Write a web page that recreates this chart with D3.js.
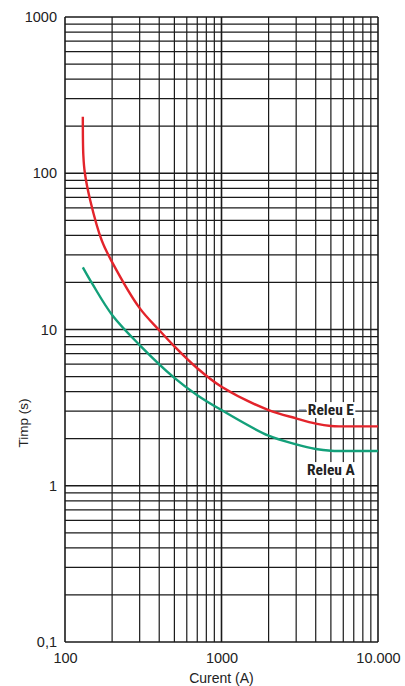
<!DOCTYPE html>
<html><head><meta charset="utf-8">
<script src="https://cdn.jsdelivr.net/npm/d3@7"></script>
<style>body{margin:0;background:#fff}svg{display:block}</style>
</head><body>
<script>
const xTickValues = [100, 1000, 10000];
const xTickLabels = ["100", "1000", "10.000"];
const yTickValues = [0.1, 1, 10, 100, 1000];
const yTickLabels = ["0,1", "1", "10", "100", "1000"];
const releuECurrent = [130, 131, 134, 145, 172, 200, 300, 400, 500, 700, 1000, 2000, 3000, 4000, 5000, 6000, 8000, 10000];
const releuETime    = [230, 130, 100, 67, 37, 27, 13.7, 9.9, 7.8, 5.65, 4.3, 3.05, 2.7, 2.5, 2.41, 2.4, 2.4, 2.4];
const releuACurrent = [130, 150, 200, 300, 500, 700, 1000, 2000, 3000, 4000, 5000, 6000, 8000, 10000];
const releuATime    = [25, 19.5, 12.4, 7.95, 4.9, 3.8, 3.05, 2.09, 1.84, 1.72, 1.675, 1.67, 1.67, 1.67];
const seriesNames = ["Releu E", "Releu A"];

const W = 405, H = 686;
const m = {left: 65, right: 378, top: 17, bottom: 642};
const svg = d3.select("body").append("svg").attr("width", W).attr("height", H);
const x = d3.scaleLog().domain([100, 10000]).range([m.left, m.right]);
const y = d3.scaleLog().domain([0.1, 1000]).range([m.bottom, m.top]);

const xs = [], ys = [];
for (let d = 100; d < 10000; d *= 10) for (let k = 1; k < 10; k++) xs.push(d * k);
xs.push(10000);
for (let d = 0.1; d < 999; d *= 10) for (let k = 1; k < 10; k++) ys.push(+(d * k).toPrecision(3));
ys.push(1000);
const isDecade = d => Math.abs(Math.log10(d) - Math.round(Math.log10(d))) < 1e-6;

const grid = svg.append("g");
grid.selectAll(".v").data(xs).enter().append("line")
  .attr("x1", d => x(d)).attr("x2", d => x(d)).attr("y1", m.top).attr("y2", m.bottom)
  .attr("stroke", "#1a1a1a").attr("stroke-width", d => isDecade(d) ? 1.6 : 1.2);
grid.selectAll(".h").data(ys).enter().append("line")
  .attr("y1", d => y(d)).attr("y2", d => y(d)).attr("x1", m.left).attr("x2", m.right)
  .attr("stroke", "#1a1a1a").attr("stroke-width", d => isDecade(d) ? 1.6 : 1.2);

const line = d3.line().x(d => x(d[0])).y(d => y(d[1])).curve(d3.curveMonotoneX);
const lineSmooth = d3.line().x(d => x(d[0])).y(d => y(d[1])).curve(d3.curveCatmullRom.alpha(0.5));
const dataE = releuECurrent.map((c, i) => [c, releuETime[i]]);
const dataA = releuACurrent.map((c, i) => [c, releuATime[i]]);
svg.append("path").datum(dataE).attr("d", lineSmooth).attr("fill", "none").attr("stroke", "#e3242b").attr("stroke-width", 2.4);
svg.append("path").datum(dataA).attr("d", lineSmooth).attr("fill", "none").attr("stroke", "#13a07a").attr("stroke-width", 2.4);

// series labels
const labFont = "'Liberation Sans Narrow','Arial Narrow','Roboto Condensed',sans-serif";
const labs = [{t: seriesNames[0], cx: 5000, cy: 3.05}, {t: seriesNames[1], cx: 5000, cy: 1.26}];
labs.forEach(l => {
  const g = svg.append("g");
  const tx = g.append("text").attr("x", x(l.cx)).attr("y", y(l.cy)).attr("text-anchor", "middle")
    .attr("dominant-baseline", "central").attr("font-family", labFont).attr("font-weight", "bold")
    .attr("font-size", 15.5).attr("fill", "#222").text(l.t);
  const bb = tx.node().getBBox();
  g.insert("rect", "text").attr("x", bb.x - 1).attr("y", bb.y + 1).attr("width", bb.width + 2).attr("height", bb.height - 2).attr("fill", "#fff");
});
svg.append("line").attr("x1", 299).attr("x2", 306).attr("y1", y(3.05)).attr("y2", y(3.05)).attr("stroke", "#4a5a7a").attr("stroke-width", 1);

const tf = "'Liberation Sans','Arial',sans-serif";
const xAxis = d3.axisBottom(x).tickValues(xTickValues).tickFormat((d, i) => xTickLabels[i]).tickSize(0).tickPadding(0);
const gx = svg.append("g").attr("transform", `translate(0,${m.bottom + 10})`).call(xAxis);
gx.select(".domain").remove();
gx.selectAll("text").attr("font-family", tf).attr("font-size", 14.5).attr("fill", "#222").attr("dy", "0.75em");
const yAxis = d3.axisLeft(y).tickValues(yTickValues).tickFormat((d, i) => yTickLabels[i]).tickSize(0).tickPadding(0);
const gy = svg.append("g").attr("transform", `translate(${m.left - 8},0)`).call(yAxis);
gy.select(".domain").remove();
gy.selectAll("text").attr("font-family", tf).attr("font-size", 14.5).attr("fill", "#222");

svg.append("text").attr("x", x(1000)).attr("y", 683).attr("text-anchor", "middle")
  .attr("font-family", tf).attr("font-size", 14).attr("fill", "#222").text("Curent (A)");
svg.append("text").attr("transform", "translate(28,423) rotate(-90)").attr("text-anchor", "middle")
  .attr("font-family", tf).attr("font-size", 13.5).attr("fill", "#222").text("Timp (s)");
</script>
</body></html>
